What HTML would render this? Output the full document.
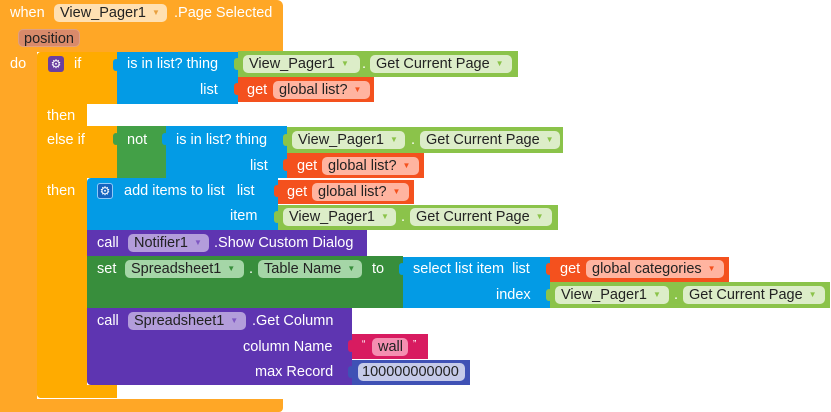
<!DOCTYPE html>
<html><head><meta charset="utf-8"><style>
body{margin:0;width:831px;height:412px;background:#fff;position:relative;overflow:hidden;font-family:"Liberation Sans",sans-serif;font-size:14.5px;}
div,span{position:absolute;box-sizing:border-box;}
.t{color:#fff;white-space:nowrap;line-height:18px;}
.p{height:18px;border-radius:5px;line-height:18px;padding:0 6px;color:#222;white-space:nowrap;font-size:14.5px;}
.ar{font-size:8px;margin-left:6px;vertical-align:2px;}
</style></head><body>
<div style="left:0;top:0;width:283px;height:52px;background:#FFA726;border-radius:6px 6px 0 0"></div>
<div style="left:0;top:0;width:37px;height:412px;background:#FFA726"></div>
<div style="left:0;top:399px;width:283px;height:13px;background:#FFA726;border-radius:0 0 4px 0"></div>
<span class="t" style="left:10px;top:4px">when</span>
<span class="p" style="left:54px;top:4px;width:113px;background:#FFE0B2">View_Pager1<span class="ar" style="position:static;color:#e8a040">▼</span></span>
<span class="t" style="left:174px;top:4px">.Page Selected</span>
<span class="p" style="left:18px;top:29px;width:62px;background:#D98A6A;border:1px solid #e0a080;color:#222;padding:0 5px">position</span>
<span class="t" style="left:10px;top:55px">do</span>
<div style="left:37px;top:52px;width:80px;height:52px;background:#FFAB00;border-radius:4px 0 0 0"></div>
<div style="left:37px;top:52px;width:50px;height:346px;background:#FFAB00;border-radius:4px 0 0 4px"></div>
<div style="left:37px;top:126px;width:80px;height:52px;background:#FFAB00"></div>
<div style="left:37px;top:385px;width:80px;height:13px;background:#FFAB00;border-radius:0 0 0 4px"></div>
<div style="left:48px;top:56px;width:16px;height:16px;background:#6a3fa0;border-radius:3px;color:#fff;font-size:12px;line-height:16px;text-align:center">⚙</div>
<span class="t" style="left:74px;top:55px">if</span>
<span class="t" style="left:47px;top:107px">then</span>
<span class="t" style="left:47px;top:131px">else if</span>
<span class="t" style="left:47px;top:182px">then</span>
<div style="left:117px;top:52px;width:121px;height:52px;background:#039BE5"></div>
<div style="left:113px;top:59px;width:6px;height:12px;background:#039BE5;border-radius:3px"></div>
<span class="t" style="left:127px;top:55px">is in list? thing</span>
<span class="t" style="left:200px;top:81px">list</span>
<div style="left:238px;top:51px;width:280px;height:26px;background:#8BC34A"></div>
<div style="left:234px;top:58px;width:6px;height:12px;background:#8BC34A;border-radius:3px"></div>
<span class="p" style="left:243px;top:55px;width:117px;background:#DCEDC8">View_Pager1<span class="ar" style="position:static;color:#8BC34A">▼</span></span>
<span class="t" style="left:362px;top:55px;color:#fff">.</span>
<span class="p" style="left:370px;top:55px;width:142px;background:#DCEDC8">Get Current Page<span class="ar" style="position:static;color:#8BC34A">▼</span></span>
<div style="left:238px;top:77px;width:136px;height:25px;background:#F4511E"></div>
<div style="left:234px;top:83px;width:6px;height:12px;background:#F4511E;border-radius:3px"></div>
<span class="t" style="left:247px;top:81px">get</span>
<span class="p" style="left:273px;top:81px;width:97px;background:#FFB4A0">global list?<span class="ar" style="position:static;color:#F4511E">▼</span></span>
<div style="left:117px;top:126px;width:49px;height:52px;background:#43A047"></div>
<div style="left:113px;top:133px;width:6px;height:12px;background:#43A047;border-radius:3px"></div>
<span class="t" style="left:127px;top:131px">not</span>
<div style="left:166px;top:126px;width:121px;height:52px;background:#039BE5"></div>
<div style="left:162px;top:133px;width:6px;height:12px;background:#039BE5;border-radius:3px"></div>
<span class="t" style="left:176px;top:131px">is in list? thing</span>
<span class="t" style="left:250px;top:157px">list</span>
<div style="left:287px;top:127px;width:276px;height:26px;background:#8BC34A"></div>
<div style="left:283px;top:134px;width:6px;height:12px;background:#8BC34A;border-radius:3px"></div>
<span class="p" style="left:292px;top:131px;width:113px;background:#DCEDC8">View_Pager1<span class="ar" style="position:static;color:#8BC34A">▼</span></span>
<span class="t" style="left:411px;top:131px">.</span>
<span class="p" style="left:420px;top:131px;width:140px;background:#DCEDC8">Get Current Page<span class="ar" style="position:static;color:#8BC34A">▼</span></span>
<div style="left:287px;top:153px;width:137px;height:25px;background:#F4511E"></div>
<div style="left:283px;top:159px;width:6px;height:12px;background:#F4511E;border-radius:3px"></div>
<span class="t" style="left:297px;top:157px">get</span>
<span class="p" style="left:322px;top:157px;width:97px;background:#FFB4A0">global list?<span class="ar" style="position:static;color:#F4511E">▼</span></span>
<div style="left:87px;top:178px;width:191px;height:52px;background:#039BE5;border-radius:4px 0 0 0"></div>
<div style="left:97px;top:183px;width:16px;height:16px;background:#1565C0;border:1px solid #90CAF9;border-radius:3px;color:#fff;font-size:12px;line-height:14px;text-align:center">⚙</div>
<span class="t" style="left:124px;top:182px">add items to list&nbsp;&nbsp; list</span>
<span class="t" style="left:230px;top:207px">item</span>
<div style="left:278px;top:180px;width:136px;height:24px;background:#F4511E"></div>
<div style="left:274px;top:185px;width:6px;height:12px;background:#F4511E;border-radius:3px"></div>
<span class="t" style="left:287px;top:183px">get</span>
<span class="p" style="left:312px;top:183px;width:97px;background:#FFB4A0">global list?<span class="ar" style="position:static;color:#F4511E">▼</span></span>
<div style="left:278px;top:205px;width:280px;height:25px;background:#8BC34A"></div>
<div style="left:274px;top:211px;width:6px;height:12px;background:#8BC34A;border-radius:3px"></div>
<span class="p" style="left:283px;top:208px;width:113px;background:#DCEDC8">View_Pager1<span class="ar" style="position:static;color:#8BC34A">▼</span></span>
<span class="t" style="left:401px;top:208px">.</span>
<span class="p" style="left:410px;top:208px;width:142px;background:#DCEDC8">Get Current Page<span class="ar" style="position:static;color:#8BC34A">▼</span></span>
<div style="left:87px;top:230px;width:280px;height:26px;background:#5E35B1"></div>
<span class="t" style="left:97px;top:234px">call</span>
<span class="p" style="left:128px;top:234px;width:81px;background:#B39DDB">Notifier1<span class="ar" style="position:static;color:#7E57C2">▼</span></span>
<span class="t" style="left:214px;top:234px">.Show Custom Dialog</span>
<div style="left:87px;top:256px;width:316px;height:52px;background:#388E3C"></div>
<span class="t" style="left:97px;top:260px">set</span>
<span class="p" style="left:125px;top:260px;width:119px;background:#A5D6A7">Spreadsheet1<span class="ar" style="position:static;color:#388E3C">▼</span></span>
<span class="t" style="left:249px;top:260px">.</span>
<span class="p" style="left:258px;top:260px;width:104px;background:#A5D6A7">Table Name<span class="ar" style="position:static;color:#388E3C">▼</span></span>
<span class="t" style="left:372px;top:260px">to</span>
<div style="left:403px;top:257px;width:147px;height:51px;background:#039BE5"></div>
<div style="left:399px;top:263px;width:6px;height:12px;background:#039BE5;border-radius:3px"></div>
<span class="t" style="left:413px;top:260px">select list item&nbsp; list</span>
<span class="t" style="left:496px;top:286px">index</span>
<div style="left:550px;top:257px;width:179px;height:25px;background:#F4511E"></div>
<div style="left:546px;top:263px;width:6px;height:12px;background:#F4511E;border-radius:3px"></div>
<span class="t" style="left:560px;top:260px">get</span>
<span class="p" style="left:586px;top:260px;width:138px;background:#FFB4A0">global categories<span class="ar" style="position:static;color:#F4511E">▼</span></span>
<div style="left:550px;top:282px;width:280px;height:26px;background:#8BC34A"></div>
<div style="left:546px;top:289px;width:6px;height:12px;background:#8BC34A;border-radius:3px"></div>
<span class="p" style="left:555px;top:286px;width:114px;background:#DCEDC8">View_Pager1<span class="ar" style="position:static;color:#8BC34A">▼</span></span>
<span class="t" style="left:674px;top:286px">.</span>
<span class="p" style="left:683px;top:286px;width:142px;background:#DCEDC8">Get Current Page<span class="ar" style="position:static;color:#8BC34A">▼</span></span>
<div style="left:87px;top:308px;width:265px;height:77px;background:#5E35B1;border-radius:0 0 0 4px"></div>
<span class="t" style="left:97px;top:312px">call</span>
<span class="p" style="left:128px;top:312px;width:118px;background:#B39DDB">Spreadsheet1<span class="ar" style="position:static;color:#7E57C2">▼</span></span>
<span class="t" style="left:252px;top:312px">.Get Column</span>
<span class="t" style="left:243px;top:338px">column Name</span>
<span class="t" style="left:255px;top:363px">max Record</span>
<div style="left:352px;top:334px;width:76px;height:25px;background:#D81B60"></div>
<div style="left:348px;top:340px;width:6px;height:12px;background:#D81B60;border-radius:3px"></div>
<span class="t" style="left:362px;top:336px;font-size:10px">“</span>
<span class="p" style="left:372px;top:338px;width:36px;background:#F48FB1">wall</span>
<span class="t" style="left:413px;top:336px;font-size:10px">”</span>
<div style="left:352px;top:360px;width:118px;height:25px;background:#3F51B5"></div>
<div style="left:348px;top:366px;width:6px;height:12px;background:#3F51B5;border-radius:3px"></div>
<span class="p" style="left:358px;top:363px;width:107px;background:#C5CAE9;padding:0 4px">100000000000</span>
</body></html>
